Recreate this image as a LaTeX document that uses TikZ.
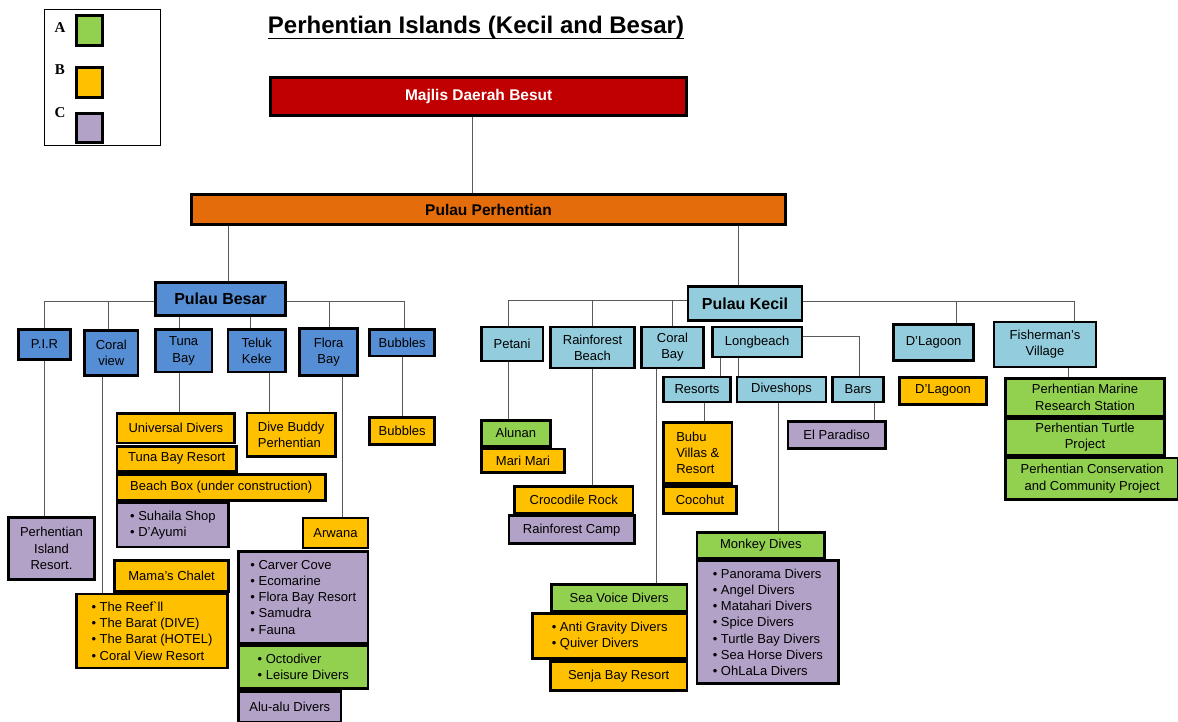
\documentclass[tikz,border=0pt]{standalone}
\usepackage{fontspec}
\setmainfont{Liberation Sans}
\newfontfamily\serifb{Liberation Serif}
\definecolor{cRed}{HTML}{C00000}
\definecolor{cOr}{HTML}{E46C0A}
\definecolor{cBlue}{HTML}{558ED5}
\definecolor{cLB}{HTML}{93CDDD}
\definecolor{cGreen}{HTML}{92D050}
\definecolor{cYel}{HTML}{FFC000}
\definecolor{cPur}{HTML}{B3A2C7}
\newcommand\bx[7]{\node[box,#6,minimum width={(#4)-(#2)-2.6},minimum height={(#5)-(#3)-2.6}] (#1) at ({((#2)+(#4))/2},{((#3)+(#5))/2}) {#7};}
\newcommand\bu{\textbullet\ }
\begin{document}
\begin{tikzpicture}[x=1pt,y=-1pt,
  box/.style={draw=black, line width=2.6pt, inner sep=1pt, align=center, text=black,
    font=\fontsize{13}{16.2}\selectfont},
  bigb/.style={font=\fontsize{16}{19}\selectfont\bfseries},
  midb/.style={font=\fontsize{15.5}{18}\selectfont\bfseries},
  conn/.style={draw=black!65, line width=1pt},
  lbl/.style={font=\serifb\bfseries\fontsize{15}{17}\selectfont, inner sep=0pt}]
\fill[white] (0,0) rectangle (1178,722);
\useasboundingbox (0,0) rectangle (1178,722);
% legend
\node[draw=black, line width=0.8pt, minimum width=116pt, minimum height=135.5pt, inner sep=0pt] (legend) at (102.2,77.2) {};
\bx{lgA}{75}{14}{103.7}{46.7}{fill=cGreen}{}
\bx{lgB}{75}{66.3}{103.7}{98.7}{fill=cYel}{}
\bx{lgC}{75}{112.3}{103.7}{144}{fill=cPur}{}
\node[lbl] (la) at (60,27.7) {A};
\node[lbl] (lb) at (60,70) {B};
\node[lbl] (lc) at (60,113) {C};
% title
\node[anchor=base, inner sep=0pt, font=\fontsize{24}{28}\selectfont\bfseries] (title) at (476,34) {Perhentian Islands (Kecil and Besar)};
\draw[line width=1.6pt] ([yshift=-4.5pt]title.base west) -- ([yshift=-4.5pt]title.base east);
% top
\bx{majlis}{269.4}{76}{688}{117}{fill=cRed,midb,text=white}{Majlis Daerah Besut}
\bx{perh}{190}{193}{787}{226}{fill=cOr,midb}{Pulau Perhentian}
\bx{besar}{154}{281}{287}{317}{fill=cBlue,bigb}{Pulau Besar}
\bx{kecil}{686.7}{285}{803.3}{321.7}{fill=cLB,bigb}{Pulau Kecil}
% Besar children
\bx{pir}{17.3}{328.3}{71.7}{360.7}{fill=cBlue}{P.I.R}
\bx{coralv}{83.3}{329}{139.3}{376.7}{fill=cBlue}{Coral\\view}
\bx{tuna}{154}{328.3}{213.3}{373.3}{fill=cBlue}{Tuna\\Bay}
\bx{teluk}{226.7}{328.3}{286.7}{373.3}{fill=cBlue}{Teluk\\Keke}
\bx{flora}{298.3}{327.3}{359}{376.7}{fill=cBlue}{Flora\\Bay}
\bx{bubb}{368.3}{328.3}{436}{357.3}{fill=cBlue}{Bubbles}
\bx{univ}{115.7}{412.3}{236}{444.3}{fill=cYel}{Universal Divers}
\bx{tbr}{115.7}{445}{237.7}{472.7}{fill=cYel}{Tuna Bay Resort}
\bx{beach}{115.7}{473.3}{326.7}{501.7}{fill=cYel}{Beach Box (under construction)}
\bx{suh}{115.7}{501.7}{230}{548.3}{fill=cPur,align=left}{\bu Suhaila Shop\\\bu D’Ayumi}
\bx{divebud}{245.7}{411.7}{336.7}{457.7}{fill=cYel,align=left}{Dive Buddy\\Perhentian}
\bx{bubb2}{368.3}{416}{436}{446}{fill=cYel}{Bubbles}
\bx{pirres}{7.3}{516}{95.7}{580.7}{fill=cPur}{Perhentian\\Island\\Resort.}
\bx{arwana}{301.7}{516.7}{369.3}{549.3}{fill=cYel}{Arwana}
\bx{mama}{113.3}{559.3}{230}{592.7}{fill=cYel}{Mama’s Chalet}
\bx{reef}{75.3}{592.7}{228.7}{669.3}{fill=cYel,align=left}{\bu The Reef\textasciigrave ll\\\bu The Barat (DIVE)\\\bu The Barat (HOTEL)\\\bu Coral View Resort}
\bx{carver}{237.3}{550}{369.3}{644.3}{fill=cPur,align=left}{\bu Carver Cove\\\bu Ecomarine\\\bu Flora Bay Resort\\\bu Samudra\\\bu Fauna}
\bx{octo}{237.3}{644.3}{369.3}{690}{fill=cGreen,align=left}{\bu Octodiver\\\bu Leisure Divers}
\bx{alu}{237.3}{690}{342.3}{724}{fill=cPur}{Alu-alu Divers}
% Kecil children
\bx{petani}{480}{325.7}{544.3}{362.3}{fill=cLB}{Petani}
\bx{rainb}{549}{325.7}{636}{369.3}{fill=cLB}{Rainforest\\Beach}
\bx{coralb}{640}{325.7}{705}{369.3}{fill=cLB}{Coral\\Bay}
\bx{longb}{711}{325.7}{803.3}{358.3}{fill=cLB}{Longbeach}
\bx{resorts}{662.3}{375.7}{731.7}{403.3}{fill=cLB}{Resorts}
\bx{dives}{735.7}{375.7}{827.3}{403.3}{fill=cLB}{Diveshops}
\bx{bars}{831}{375.7}{885}{403.3}{fill=cLB}{Bars}
\bx{dlag}{892.3}{323.3}{975}{361.7}{fill=cLB}{D’Lagoon}
\bx{fish}{992.7}{320.7}{1097.3}{368.3}{fill=cLB}{Fisherman’s\\Village}
\bx{alunan}{480}{419}{551.7}{447.7}{fill=cGreen}{Alunan}
\bx{mari}{480}{447.7}{566}{474}{fill=cYel}{Mari Mari}
\bx{croc}{513.3}{485}{634.3}{514.3}{fill=cYel}{Crocodile Rock}
\bx{rcamp}{507.7}{514.3}{635.7}{545}{fill=cPur}{Rainforest Camp}
\bx{bubu}{662.3}{421}{733.3}{485}{fill=cYel,align=left}{Bubu\\Villas \&\\Resort}
\bx{coco}{662.3}{485}{737.7}{515}{fill=cYel}{Cocohut}
\bx{elp}{786.7}{420}{886.7}{450}{fill=cPur}{El Paradiso}
\bx{monkey}{695.7}{531}{826}{559.3}{fill=cGreen}{Monkey Dives}
\bx{pano}{695.7}{559.3}{840}{685}{fill=cPur,align=left}{\bu Panorama Divers\\\bu Angel Divers\\\bu Matahari Divers\\\bu Spice Divers\\\bu Turtle Bay Divers\\\bu Sea Horse Divers\\\bu OhLaLa Divers}
\bx{seav}{550}{583.3}{688.3}{612.3}{fill=cGreen}{Sea Voice Divers}
\bx{anti}{531}{612.3}{688.3}{660}{fill=cYel,align=left}{\bu Anti Gravity Divers\\\bu Quiver Divers}
\bx{senja}{549}{660}{688.3}{691.7}{fill=cYel}{Senja Bay Resort}
\bx{dlag2}{898.3}{376}{987.7}{405.7}{fill=cYel}{D’Lagoon}
\bx{marine}{1004.3}{377}{1165.7}{417.7}{fill=cGreen}{Perhentian Marine\\Research Station}
\bx{turtle}{1004.3}{417.7}{1165.7}{456.7}{fill=cGreen}{Perhentian Turtle\\Project}
\bx{cons}{1004.3}{456.7}{1180}{500.7}{fill=cGreen}{Perhentian Conservation\\and Community Project}
% connectors
\coordinate (xm) at (472,0);
\draw[conn] (majlis.south -| xm) -- (perh.north -| xm);
\coordinate (xB) at (228,0);
\draw[conn] (perh.south -| xB) -- (besar.north -| xB);
\coordinate (xC) at (738.3,0);
\draw[conn] (perh.south -| xC) -- (kecil.north -| xC);
\coordinate (bL) at (44.3,301);
\coordinate (bR) at (404.3,301);
\draw[conn] (besar.west |- bL) -- (bL) -- (pir.north -| bL);
\draw[conn] (besar.east |- bR) -- (bR) -- (bubb.north -| bR);
\coordinate (xcv) at (108,0);
\draw[conn] (xcv |- bL) -- (coralv.north -| xcv);
\coordinate (xfl) at (329.3,0);
\draw[conn] (xfl |- bR) -- (flora.north -| xfl);
\coordinate (xtu) at (179,0);
\draw[conn] (besar.south -| xtu) -- (tuna.north -| xtu);
\coordinate (xte) at (250,0);
\draw[conn] (besar.south -| xte) -- (teluk.north -| xte);
\draw[conn] (pir.south -| bL) -- (pirres.north -| bL);
\coordinate (xcv2) at (102.7,0);
\draw[conn] (coralv.south -| xcv2) -- (reef.north -| xcv2);
\draw[conn] (tuna.south -| xtu) -- (univ.north -| xtu);
\coordinate (xte2) at (269,0);
\draw[conn] (teluk.south -| xte2) -- (divebud.north -| xte2);
\coordinate (xfl2) at (342.3,0);
\draw[conn] (flora.south -| xfl2) -- (arwana.north -| xfl2);
\coordinate (xbu2) at (402.3,0);
\draw[conn] (bubb.south -| xbu2) -- (bubb2.north -| xbu2);
\coordinate (kL) at (508.3,300);
\coordinate (kR) at (1074.3,301);
\draw[conn] (kecil.west |- kL) -- (kL) -- (petani.north -| kL);
\draw[conn] (kecil.east |- kR) -- (kR) -- (fish.north -| kR);
\coordinate (xrb) at (592.7,0);
\draw[conn] (xrb |- kL) -- (rainb.north -| xrb);
\coordinate (xcb) at (672.3,0);
\draw[conn] (xcb |- kL) -- (coralb.north -| xcb);
\coordinate (xdl) at (956.7,0);
\draw[conn] (xdl |- kR) -- (dlag.north -| xdl);
\coordinate (lbR) at (859.3,336.7);
\draw[conn] (longb.east |- lbR) -- (lbR) -- (bars.north -| lbR);
\coordinate (xre) at (720,0);
\draw[conn] (longb.south -| xre) -- (resorts.north -| xre);
\coordinate (xdv) at (738.3,0);
\draw[conn] (longb.south -| xdv) -- (dives.north -| xdv);
\draw[conn] (petani.south -| kL) -- (alunan.north -| kL);
\draw[conn] (rainb.south -| xrb) -- (croc.north -| xrb);
\coordinate (xcb2) at (656.3,0);
\draw[conn] (coralb.south -| xcb2) -- (seav.north -| xcb2);
\coordinate (xre2) at (704.3,0);
\draw[conn] (resorts.south -| xre2) -- (bubu.north -| xre2);
\coordinate (xdv2) at (778.3,0);
\draw[conn] (dives.south -| xdv2) -- (monkey.north -| xdv2);
\coordinate (xba) at (874,0);
\draw[conn] (bars.south -| xba) -- (elp.north -| xba);
\coordinate (xfi) at (1068.3,0);
\draw[conn] (fish.south -| xfi) -- (marine.north -| xfi);
\end{tikzpicture}
\end{document}
